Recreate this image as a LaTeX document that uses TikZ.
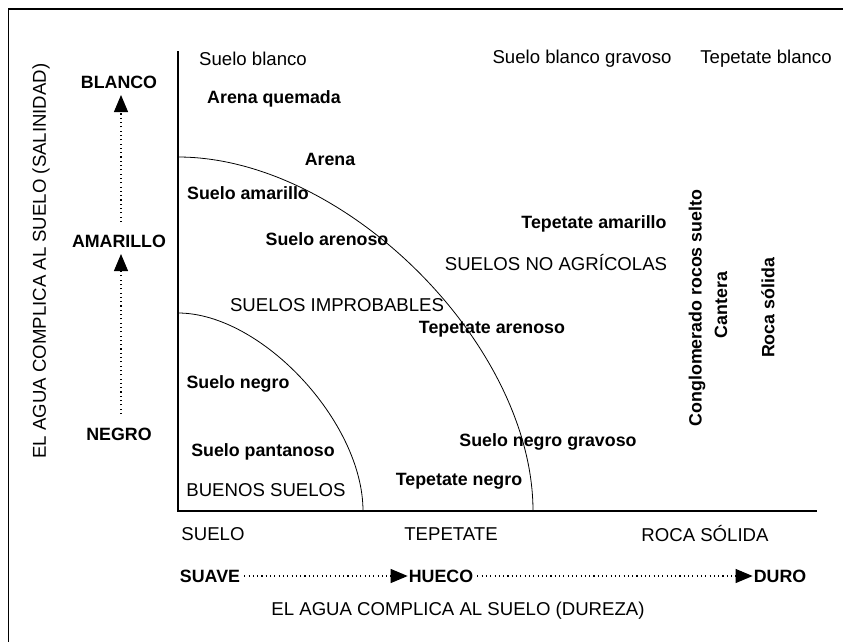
\documentclass[tikz,border=0pt]{standalone}
\usepackage{fontspec}
\setmainfont{Liberation Sans}
\usetikzlibrary{arrows.meta}
\begin{document}
\begin{tikzpicture}[x=1pt,y=-1pt,
  lab/.style={inner sep=0pt,font=\fontsize{18.6}{21}\selectfont},
  bl/.style={inner sep=0pt,font=\fontsize{17.8}{20}\selectfont\bfseries},
  dotarrow/.style={line width=1.1pt,dash pattern=on 1.1pt off 3.2pt,-{Triangle[length=17pt,width=14pt]}},
  axis/.style={line width=1.8pt},
  curve/.style={line width=0.8pt}]
\useasboundingbox (0,0) rectangle (843,641);
\clip (0,0) rectangle (843,641);
% frame
\draw[line width=1.4pt] (8.5,9) rectangle (860,660);
% axes
\coordinate (o) at (178,511);
\coordinate (ytop) at (178,51);
\coordinate (xend) at (817,511);
\draw[axis] (ytop) -- (o) -- (xend);
% curves
\draw[curve] (178,313) .. controls (178+0.45*185,313) and (363,511-0.45*198) .. (363,511);
\draw[curve] (178,157) .. controls (178+0.47*355,157) and (533,511-0.47*354) .. (533,511);
% top labels
\node[lab] (sb) at (253,59) {Suelo blanco};
\node[lab] (sbg) at (582,59) {Suelo blanco gravoso};
\node[lab] (tb) at (766,59) {Tepetate blanco};
% region texts
\node[bl] (aq) at (274,99) {Arena quemada};
\node[bl] (ar) at (330,159) {Arena};
\node[bl] (sa) at (248,193) {Suelo amarillo};
\node[bl] (sar) at (327,239) {Suelo arenoso};
\node[bl] (ta) at (594,224) {Tepetate amarillo};
\node[lab] (sna) at (556,263) {SUELOS NO AGRÍCOLAS};
\node[lab] (si) at (337,305) {SUELOS IMPROBABLES};
\node[bl] (tar) at (492,329) {Tepetate arenoso};
\node[bl] (sn) at (238,384) {Suelo negro};
\node[bl] (sp) at (263,452) {Suelo pantanoso};
\node[bl] (sng) at (548,442) {Suelo negro gravoso};
\node[bl] (tn) at (459,481) {Tepetate negro};
\node[lab] (bs) at (266,490) {BUENOS SUELOS};
\node[bl,rotate=90] (cr) at (697,308) {Conglomerado rocos suelto};
\node[bl,rotate=90] (ca) at (721,305) {Cantera};
\node[bl,rotate=90] (rs) at (768,308) {Roca sólida};
% left axis
\node[lab,rotate=90] (ylab) at (41,261) {EL AGUA COMPLICA AL SUELO (SALINIDAD)};
\node[bl] (blanco) at (119,82) {BLANCO};
\node[bl] (amarillo) at (119,241) {AMARILLO};
\node[bl] (negro) at (119,434) {NEGRO};
\coordinate (n0) at (121,414);
\coordinate (a1) at (121,254);
\coordinate (a0) at (121,222);
\coordinate (b1) at (121,95);
\draw[dotarrow] (n0) -- (a1);
\draw[dotarrow] (a0) -- (b1);
% bottom axis
\node[lab] (suelo) at (213,534) {SUELO};
\node[lab] (tepetate) at (451,534) {TEPETATE};
\node[lab] (roca) at (705,534) {ROCA SÓLIDA};
\node[bl] (suave) at (210,576) {SUAVE};
\node[bl] (hueco) at (441,576) {HUECO};
\node[bl] (duro) at (780,576) {DURO};
\draw[dotarrow] ([xshift=4pt]suave.east) -- ([xshift=-1pt]hueco.west);
\draw[dotarrow] ([xshift=4pt]hueco.east) -- ([xshift=-1pt]duro.west);
\node[lab] (xlab) at (458,611) {EL AGUA COMPLICA AL SUELO (DUREZA)};
\end{tikzpicture}
\end{document}
